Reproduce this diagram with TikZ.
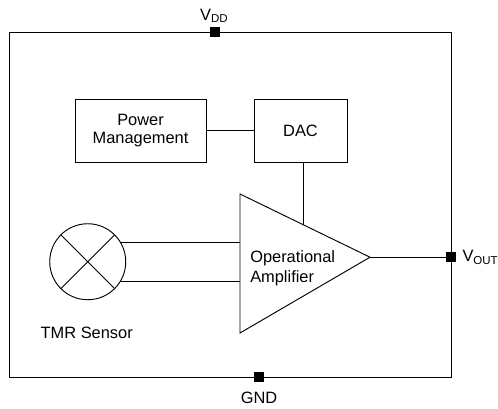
\documentclass[tikz,border=0pt]{standalone}
\usepackage{fontspec}
\setmainfont{Liberation Sans}
\usetikzlibrary{positioning}
\usetikzlibrary{calc}
\tikzset{
  wire/.style={line width=0.7pt},
  chip/.style={draw, wire, outer sep=0pt, minimum width=331.5pt, minimum height=258.75pt},
  block/.style={draw, wire, outer sep=0pt, align=center, minimum height=47.25pt},
  pad/.style={fill=black, inner sep=0pt, minimum size=7.5pt},
  sensor/.style={draw, wire, circle, outer sep=0pt, inner sep=0pt, minimum size=57pt},
  lbl/.style={inner sep=0pt, align=left},
}
\begin{document}
\begin{tikzpicture}[font=\fontsize{12.3}{13.5}\selectfont]
        \useasboundingbox (0,0) rectangle (373.5pt,-306.75pt);

        % Define nodes
        \node[chip]                                                 (ic) at (172.5pt,-153.4pt) {};
        \node[block, minimum width=98.25pt, below right=50.25pt and 49.5pt of ic.north west] (pm) {Power\\Management};
        \node[block, minimum width=69.75pt, right=36pt of pm]       (dac) {DAC};
        \node[sensor]                                               (tmr) at (65.8pt,-196.3pt) {};
        \node[lbl, below=20.5pt of tmr, xshift=-0.75pt]             (tmrlbl) {TMR Sensor};

        % Amplifier corners
        \coordinate (ampt) at (180pt,-145.5pt);
        \coordinate (ampb) at (180pt,-249.75pt);
        \coordinate (ampo) at (277.5pt,-192.9pt);
        \coordinate (ampin) at ($(ampt)!0.487!(ampo)$);
        \draw[wire] (ampt) -- (ampo) -- (ampb) -- cycle;
        \node[lbl, right=7.5pt of ampt, yshift=-55.75pt, font=\fontsize{12.3}{15}\selectfont] (amplbl) {Operational\\Amplifier};

        % Pads and their labels
        \node[pad, at={(ic.north)}, xshift=-11.25pt]                (vdd) {};
        \node[pad, at={(ic.south)}, xshift=21.75pt]                 (gnd) {};
        \node[pad, at={(ic.east |- ampo)}]                          (vout) {};
        \node[lbl, above=3pt of vdd, xshift=-0.5pt]                 (vddlbl) {V\textsubscript{DD}};
        \node[lbl, below=7pt of gnd]                                (gndlbl) {GND};
        \node[lbl, right=4.5pt of vout]                             (voutlbl) {V\textsubscript{OUT}};

        % Connect the nodes
        \draw[wire] (pm) -- (dac);
        \draw[wire] (dac.south -| ampin) -- (ampin);
        \draw[wire] (ampo) -- (vout);
        \draw[wire] (tmr.31) -- (tmr.31 -| ampt);
        \draw[wire] (tmr.-31) -- (tmr.-31 -| ampt);
        \draw[wire] (tmr.45) -- (tmr.225);
        \draw[wire] (tmr.135) -- (tmr.315);
\end{tikzpicture}
\end{document}
